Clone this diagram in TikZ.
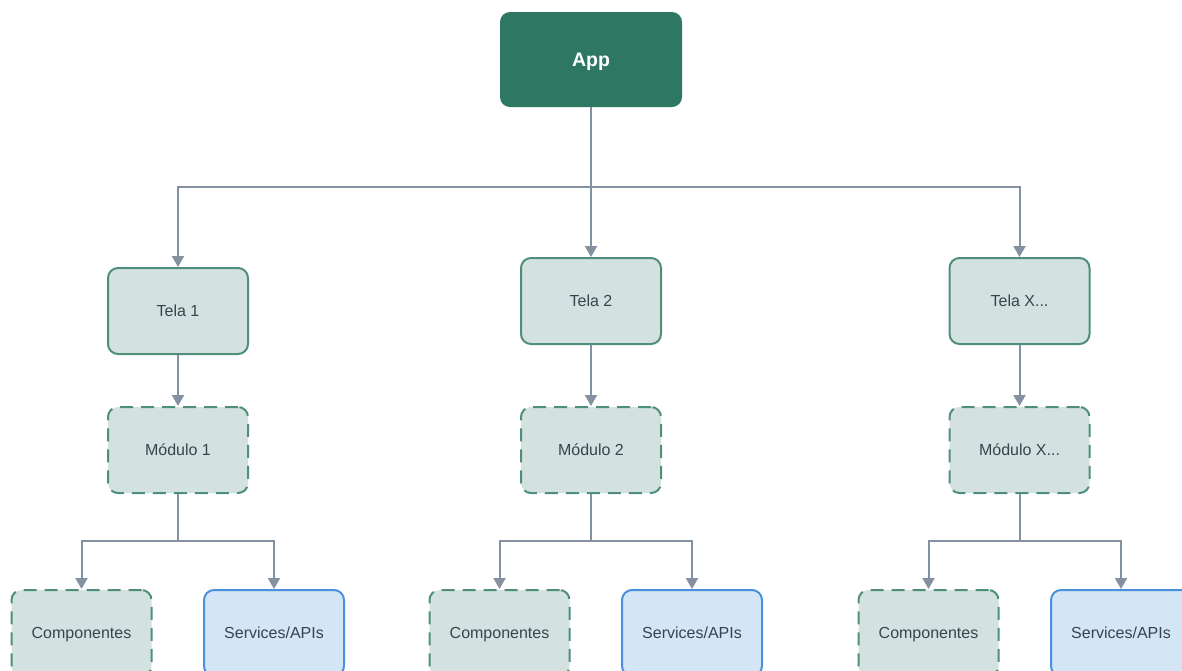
\documentclass[tikz,border=0pt]{standalone}
\usepackage{fontspec}
\setmainfont{Liberation Sans}
\usetikzlibrary{arrows.meta}
\definecolor{appgreen}{HTML}{2D7763}
\definecolor{boxline}{HTML}{4F8E7B}
\definecolor{boxfill}{HTML}{D3E2E1}
\definecolor{svcline}{HTML}{4A90DC}
\definecolor{svcfill}{HTML}{D4E5F5}
\definecolor{wire}{HTML}{8491A0}
\definecolor{txt}{HTML}{3A434D}
\tikzset{
  base/.style={rounded corners=10pt, line width=2pt, minimum width=140pt,
    minimum height=86pt, text=txt, font=\fontsize{16}{19}\selectfont, inner sep=0pt,
    text height=11.5pt, text depth=1.5pt},
  solidbox/.style={base, draw=boxline, fill=boxfill},
  dashbox/.style={base, draw=boxline, fill=boxfill, dash pattern=on 13pt off 8pt},
  svcbox/.style={base, draw=svcline, fill=svcfill},
  appbox/.style={rounded corners=10pt, fill=appgreen, minimum width=182pt,
    minimum height=95pt, text=white, font=\fontsize{19.5}{22}\selectfont\bfseries,
    text height=14pt, text depth=1pt},
  arr/.style={draw=wire, line width=2pt, -{Triangle[width=12pt,length=11pt]}},
  wireline/.style={draw=wire, line width=2pt}
}
\begin{document}
\begin{tikzpicture}[x=1pt, y=-1pt]
\useasboundingbox (0,0) rectangle (1182,670);
\clip (0,0) rectangle (1182,670);

% top level
\node[appbox] (app) at (591,59.5) {App};

% screens
\node[solidbox] (t1) at (178,311) {Tela 1};
\node[solidbox] (t2) at (591,301) {Tela 2};
\node[solidbox] (t3) at (1019.5,301) {Tela X...};

% modules
\node[dashbox] (m1) at (178,450) {Módulo 1};
\node[dashbox] (m2) at (591,450) {Módulo 2};
\node[dashbox] (m3) at (1019.5,450) {Módulo X...};

% components and services
\node[dashbox] (c1) at (81.5,633) {Componentes};
\node[svcbox]  (s1) at (274,633) {Services/APIs};
\node[dashbox] (c2) at (499.5,633) {Componentes};
\node[svcbox]  (s2) at (692,633) {Services/APIs};
\node[dashbox] (c3) at (928.5,633) {Componentes};
\node[svcbox]  (s3) at (1121,633) {Services/APIs};

% junction points
\coordinate (j0) at (591,187);
\coordinate (j1) at (178,541);
\coordinate (j2) at (591,541);
\coordinate (j3) at (1019.5,541);

% app to screens
\draw[arr] (app.south) -- (t2.north);
\draw[arr] (j0) -| (t1.north);
\draw[arr] (j0) -| (t3.north);

% screens to modules
\draw[arr] (t1) -- (m1);
\draw[arr] (t2) -- (m2);
\draw[arr] (t3) -- (m3);

% modules to components and services
\draw[wireline] (m1.south) -- (j1);
\draw[arr] (j1) -| (c1.north);
\draw[arr] (j1) -| (s1.north);
\draw[wireline] (m2.south) -- (j2);
\draw[arr] (j2) -| (c2.north);
\draw[arr] (j2) -| (s2.north);
\draw[wireline] (m3.south) -- (j3);
\draw[arr] (j3) -| (c3.north);
\draw[arr] (j3) -| (s3.north);
\end{tikzpicture}
\end{document}
